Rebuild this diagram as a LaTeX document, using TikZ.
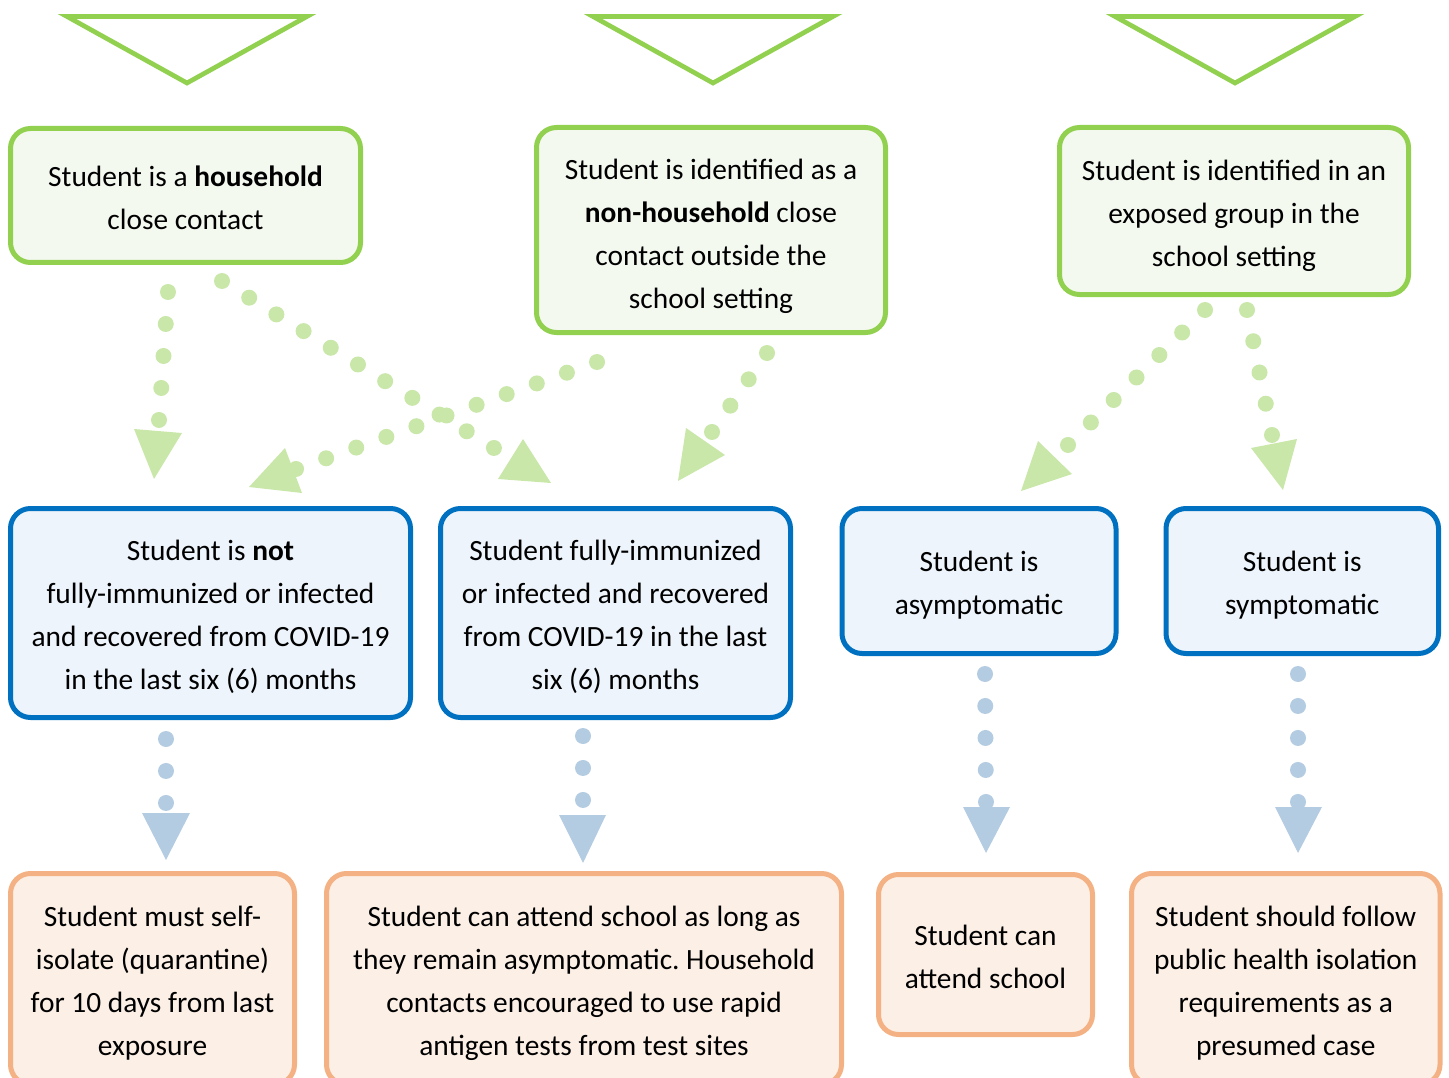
\documentclass[tikz,border=0pt]{standalone}
\usepackage{fontspec}
\setmainfont{Carlito}
\definecolor{gstroke}{RGB}{146,208,80}
\definecolor{gfill}{RGB}{244,249,240}
\definecolor{bstroke}{RGB}{0,112,192}
\definecolor{bfill}{RGB}{237,244,251}
\definecolor{ostroke}{RGB}{244,177,131}
\definecolor{ofill}{RGB}{252,239,230}
\definecolor{dotg}{RGB}{201,231,169}
\definecolor{dotb}{RGB}{180,204,226}
\newcommand\topS{\rule{0pt}{31pt}}
\newcommand\topT{\rule{0pt}{35pt}}
\newcommand\botS{\rule[-6.5pt]{0pt}{6.5pt}}
\begin{document}
\begin{tikzpicture}[x=1pt,y=-1pt,
  box/.style={rectangle, rounded corners=20pt, line width=5pt, inner sep=0pt,
    align=center, font=\fontsize{29.4}{43}\selectfont\frenchspacing},
  gbox/.style={box, draw=gstroke, fill=gfill},
  bbox/.style={box, draw=bstroke, fill=bfill},
  obox/.style={box, draw=ostroke, fill=ofill},
  topfunnel/.style={draw=gstroke, line width=4.7pt},
  dotsg/.style={draw=dotg, line width=16pt, line cap=round, dash pattern=on 0pt off #1pt},
  dotsb/.style={draw=dotb, line width=16pt, line cap=round, dash pattern=on 0pt off #1pt},
  headg/.style={fill=dotg},
  headb/.style={fill=dotb}]
\useasboundingbox (0,0) rectangle (1449,1078);
\path[clip] (0,0) rectangle (1449,1078);

% top funnels
\foreach \c in {187,713,1235}{
  \draw[topfunnel] (\c-120,16.5) -- (\c+120,16.5) -- (\c,83) -- cycle;
}

% green boxes
\node[gbox, minimum width=350pt, minimum height=134pt] (g1) at (185.5,195.5)
  {\topS Student is a \textbf{household}\\close contact\botS};
\node[gbox, minimum width=349pt, minimum height=205pt] (g2) at (711,230)
  {\topT Student is identified as a\\\textbf{non-household} close\\contact outside the\\school setting\botS};
\node[gbox, minimum width=349pt, minimum height=167pt] (g3) at (1234,211)
  {\topS Student is identified in an\\exposed group in the\\school setting\botS};

% blue boxes
\node[bbox, minimum width=400pt, minimum height=209pt] (b1) at (210.5,613)
  {\topS Student is \textbf{not}\\fully-immunized or infected\\and recovered from COVID-19\\in the last six (6) months\botS};
\node[bbox, minimum width=350pt, minimum height=209pt] (b2) at (615.5,613)
  {\topS Student fully-immunized\\or infected and recovered\\from COVID-19 in the last\\six (6) months\botS};
\node[bbox, minimum width=274pt, minimum height=145pt] (b3) at (979,581)
  {\topS Student is\\asymptomatic\botS};
\node[bbox, minimum width=272.5pt, minimum height=145pt] (b4) at (1302.25,581)
  {\topS Student is\\symptomatic\botS};

% orange boxes
\node[obox, minimum width=284pt, minimum height=211pt] (o1) at (152.5,979)
  {\topS Student must self-\\isolate (quarantine)\\for 10 days from last\\exposure\botS};
\node[obox, minimum width=515pt, minimum height=211pt] (o2) at (584,979)
  {\topS Student can attend school as long as\\they remain asymptomatic. Household\\contacts encouraged to use rapid\\antigen tests from test sites\botS};
\node[obox, minimum width=214pt, minimum height=160pt] (o3) at (985.5,954.5)
  {\topS Student can\\attend school\botS};
\node[obox, minimum width=308.5pt, minimum height=211pt] (o4) at (1285.75,979)
  {\topS Student should follow\\public health isolation\\requirements as a\\presumed case\botS};

% connector end points
\coordinate (g1a) at (168,292);  \coordinate (b1a) at (159,420);
\coordinate (g1b) at (222,281);  \coordinate (b2a) at (494,448);
\coordinate (g2a) at (597,362);  \coordinate (b1b) at (296,469);
\coordinate (g2b) at (767,353);  \coordinate (b2b) at (712,432);
\coordinate (g3a) at (1205,310); \coordinate (b3a) at (1068,445);
\coordinate (g3b) at (1247,310); \coordinate (b4a) at (1272,435);
\coordinate (b1c) at (166,739);  \coordinate (o1a) at (166,803);
\coordinate (b2c) at (583,736);  \coordinate (o2a) at (583,800);
\coordinate (b3c) at (985,674);  \coordinate (o3a) at (986,802);
\coordinate (b4c) at (1298,674); \coordinate (o4a) at (1298,802);

% green dotted connectors
\draw[dotsg=32.07] (g1a) -- (b1a);
\draw[dotsg=31.91] (g1b) -- (b2a);
\draw[dotsg=31.94] (g2a) -- (b1b);
\draw[dotsg=32.08] (g2b) -- (b2b);
\draw[dotsg=32.05] (g3a) -- (b3a);
\draw[dotsg=31.86] (g3b) -- (b4a);
% green heads
\fill[headg] (134,429) -- (182,433) -- (154,479) -- cycle;
\fill[headg] (498,479) -- (523,439) -- (551,483) -- cycle;
\fill[headg] (249,487) -- (285,448) -- (302,493) -- cycle;
\fill[headg] (686,428) -- (725,455) -- (678,481) -- cycle;
\fill[headg] (1021,491) -- (1038,441) -- (1072,474) -- cycle;
\fill[headg] (1251,448) -- (1297,439) -- (1283,490) -- cycle;

% blue dotted connectors
\draw[dotsb=31.99] (b1c) -- (o1a);
\draw[dotsb=31.99] (b2c) -- (o2a);
\draw[dotsb=31.99] (b3c) -- (o3a);
\draw[dotsb=31.99] (b4c) -- (o4a);
% blue heads
\fill[headb] (142,813) -- (190,813) -- (166,860) -- cycle;
\fill[headb] (559,815) -- (606,815) -- (583,863) -- cycle;
\fill[headb] (963,807) -- (1010,807) -- (986,853) -- cycle;
\fill[headb] (1275,807) -- (1322,807) -- (1298,853) -- cycle;
\end{tikzpicture}
\end{document}
